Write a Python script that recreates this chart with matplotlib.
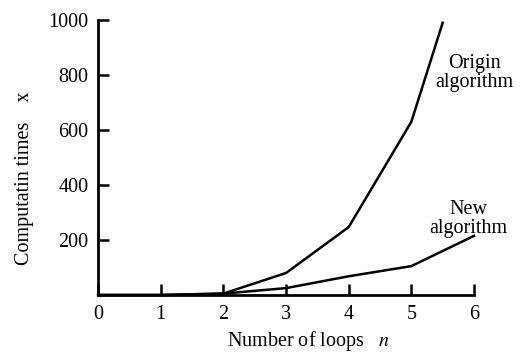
import matplotlib
matplotlib.use('Agg')
import matplotlib.pyplot as plt

# Values
loops = [0, 1, 2, 3, 4, 5, 5.5]
origin_times = [0, 0, 5, 80, 247, 630, 990]
new_loops = [0, 1, 2, 3, 4, 5, 6]
new_times = [0, 0, 5, 25, 68, 105, 215]

x_ticks = [0, 1, 2, 3, 4, 5, 6]
y_ticks = [200, 400, 600, 800, 1000]

plt.rcParams['font.family'] = ['Liberation Serif', 'DejaVu Serif']
plt.rcParams['mathtext.fontset'] = 'stix'

fig = plt.figure(figsize=(5.22, 3.52), dpi=100)
ax = fig.add_axes([0.188, 0.162, 0.72, 0.781])

ax.plot(loops, origin_times, color='black', lw=1.8, clip_on=False)
ax.plot(new_loops, new_times, color='black', lw=1.8, clip_on=False)

ax.set_xlim(0, 6)
ax.set_ylim(0, 1000)
ax.set_xticks(x_ticks)
ax.set_yticks(y_ticks)
ax.tick_params(direction='in', length=8, width=1.8, labelsize=14.5, pad=7)

for side in ['top', 'right']:
    ax.spines[side].set_visible(False)
for side in ['left', 'bottom']:
    ax.spines[side].set_linewidth(2)

ax.set_xlabel('Number of loops   $\\mathit{n}$', fontsize=14.5)
ax.set_ylabel('Computatin times    x', fontsize=14.5)
ax.xaxis.set_label_coords(0.561, -0.125)
ax.yaxis.set_label_coords(-0.17, 0.425)

# Curve labels
ax.text(6.0, 807, 'Origin\nalgorithm', ha='center', va='center', fontsize=14.5,
        linespacing=1.0, clip_on=False)
ax.text(5.91, 276, 'New\nalgorithm', ha='center', va='center', fontsize=14.5,
        linespacing=1.0, clip_on=False)

fig.savefig('out.png', dpi=100)
